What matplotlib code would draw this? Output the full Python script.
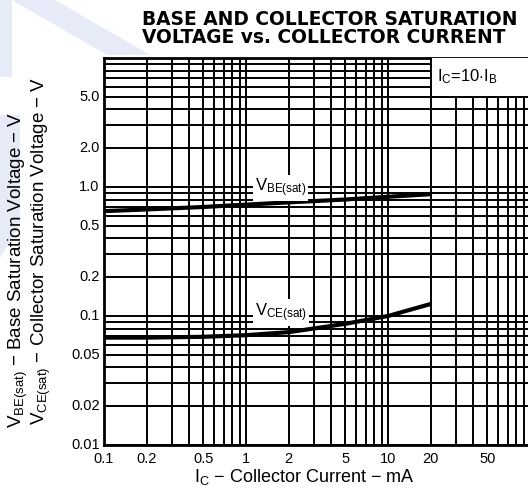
import matplotlib
matplotlib.use("Agg")
import matplotlib.pyplot as plt
from matplotlib.ticker import LogLocator, FixedLocator, NullFormatter
from matplotlib.patches import Polygon, Rectangle

plt.rcParams['font.family'] = ['Liberation Sans', 'DejaVu Sans']
plt.rcParams['mathtext.fontset'] = 'custom'
plt.rcParams['mathtext.rm'] = 'Liberation Sans'
plt.rcParams['mathtext.it'] = 'Liberation Sans'

# ---- data ----
ic_be = [0.1, 0.2, 0.5, 1, 2, 5, 10, 20]
vbe_sat = [0.65, 0.67, 0.70, 0.73, 0.76, 0.80, 0.84, 0.88]
ic_ce = [0.1, 0.2, 0.5, 1, 2, 3, 5, 10, 20]
vce_sat = [0.068, 0.068, 0.069, 0.071, 0.075, 0.080, 0.087, 0.100, 0.124]
x_ticks = [0.1, 0.2, 0.5, 1, 2, 5, 10, 20, 50]
x_tick_labels = ["0.1", "0.2", "0.5", "1", "2", "5", "10", "20", "50"]
y_ticks = [0.01, 0.02, 0.05, 0.1, 0.2, 0.5, 1.0, 2.0, 5.0]
y_tick_labels = ["0.01", "0.02", "0.05", "0.1", "0.2", "0.5", "1.0", "2.0", "5.0"]

W, H = 528, 500
fig = plt.figure(figsize=(W / 100, H / 100), dpi=100)

def fp(x, y):
    return (x / W, 1 - y / H)

# faint watermark shapes
wm = '#e7ebf8'
for poly in [
    [(0, 0), (12, 0), (12, 77), (0, 77)],
    [(12, 0), (55, 0), (150, 55), (107, 55)],
    [(0, 115), (20, 115), (20, 225), (0, 258)],
]:
    fig.patches.append(Polygon([fp(*p) for p in poly], closed=True,
                               transform=fig.transFigure, facecolor=wm,
                               edgecolor='none', zorder=0))

ax = fig.add_axes([104 / W, 55 / H, 426 / W, 387 / H])
ax.set_xscale('log')
ax.set_yscale('log')
ax.set_xlim(0.1, 100)
ax.set_ylim(0.01, 10)
ax.patch.set_alpha(0)

ax.xaxis.set_major_locator(LogLocator(base=10, subs=range(1, 10), numticks=50))
ax.yaxis.set_major_locator(LogLocator(base=10, subs=range(1, 10), numticks=50))
ax.xaxis.set_minor_locator(FixedLocator([]))
ax.yaxis.set_minor_locator(FixedLocator([]))
ax.grid(True, which='major', color='black', linewidth=1.4)
ax.tick_params(which='both', length=0)
ax.xaxis.set_major_formatter(NullFormatter())
ax.yaxis.set_major_formatter(NullFormatter())

# tick labels
for v, s in zip(x_ticks, x_tick_labels):
    ax.text(v, 0.0089, s, ha='center', va='top', fontsize=10.5)
for v, s in zip(y_ticks, y_tick_labels):
    ax.text(0.093, v, s, ha='right', va='center', fontsize=10.5)

for sp in ['left', 'bottom', 'top']:
    ax.spines[sp].set_linewidth(2.0)
ax.spines['right'].set_visible(False)

ax.plot(ic_be, vbe_sat, color='black', linewidth=3.0, solid_capstyle='butt', zorder=5)
ax.plot(ic_ce, vce_sat, color='black', linewidth=3.0, solid_capstyle='butt', zorder=5)

ax.text(1.15, 0.98, r'V$_{\rm BE(sat)}$', fontsize=12, ha='left', va='center', zorder=6,
        bbox=dict(facecolor='white', edgecolor='none', pad=1.5))
ax.text(1.15, 0.107, r'V$_{\rm CE(sat)}$', fontsize=12, ha='left', va='center', zorder=6,
        bbox=dict(facecolor='white', edgecolor='none', pad=1.5))

ax.add_patch(Rectangle((20, 5), 100, 10, facecolor='white', edgecolor='black',
                       linewidth=1.4, zorder=4))
ax.text(22, 7.2, r'I$_{\rm C}$=10$\cdot$I$_{\rm B}$', fontsize=12, ha='left', va='center', zorder=6)

fig.text(142 / W, 1 - 10 / H, 'BASE AND COLLECTOR SATURATION\nVOLTAGE vs. COLLECTOR CURRENT',
         ha='left', va='top', fontsize=13.4, fontweight='bold', family='DejaVu Sans',
         linespacing=0.95)

fig.text(304 / W, 1 - 477 / H, r'I$_{\rm C}$ $-$ Collector Current $-$ mA', ha='center', va='center',
         fontsize=13)
fig.text(18 / W, 1 - 270 / H, r'V$_{\rm BE(sat)}$ $-$ Base Saturation Voltage $-$ V',
         rotation=90, ha='center', va='center', fontsize=13.5)
fig.text(41 / W, 1 - 251 / H, r'V$_{\rm CE(sat)}$ $-$ Collector Saturation Voltage $-$ V',
         rotation=90, ha='center', va='center', fontsize=13.5)

fig.savefig('out.png', dpi=100)
